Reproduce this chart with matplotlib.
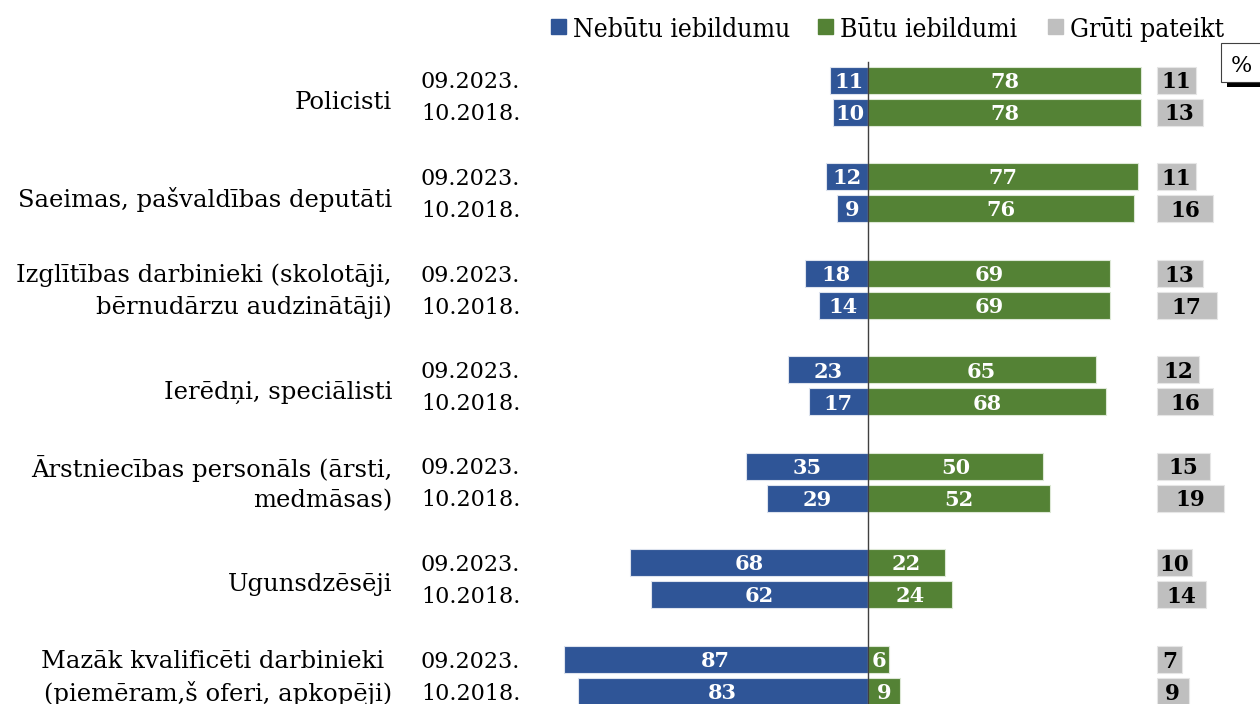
import matplotlib
matplotlib.use("Agg")
import matplotlib.pyplot as plt
from matplotlib.patches import Rectangle

groups = ["Policisti",
          "Saeimas, pašvaldības deputāti",
          "Izglītības darbinieki (skolotāji,\nbērnudārzu audzinātāji)",
          "Ierēdņi, speciālisti",
          "Ārstniecības personāls (ārsti,\nmedmāsas)",
          "Ugunsdzēsēji",
          "Mazāk kvalificēti darbinieki \n(piemēram,š oferi, apkopēji)"]
periods = ["09.2023.", "10.2018."]
no_obj_2023 = [11, 12, 18, 23, 35, 68, 87]
no_obj_2018 = [10, 9, 14, 17, 29, 62, 83]
obj_2023 = [78, 77, 69, 65, 50, 22, 6]
obj_2018 = [78, 76, 69, 68, 52, 24, 9]
hard_2023 = [11, 11, 13, 12, 15, 10, 7]
hard_2018 = [13, 16, 17, 16, 19, 14, 9]
legend_labels = ["Nebūtu iebildumu", "Būtu iebildumi", "Grūti pateikt"]

BLUE = "#2F5597"
GREEN = "#548235"
GREY = "#BFBFBF"

W, H = 1260, 704
fig = plt.figure(figsize=(W / 100, H / 100), dpi=100)
ax = fig.add_axes([0, 0, 1, 1])
scale = 3.5
zero_px = 868
ax.set_xlim(-zero_px / scale, (W - zero_px) / scale)
ax.set_ylim(H, 0)
ax.axis("off")

FONT = "DejaVu Serif"
bar_h = 27
g0, gstep, half = 96, 96.5, 16


def px2x(px):
    return (px - zero_px) / scale


grey_left = px2x(1157)

for i, g in enumerate(groups):
    yc = g0 + i * gstep
    rows = [(yc - half, no_obj_2023[i], obj_2023[i], hard_2023[i]),
            (yc + half, no_obj_2018[i], obj_2018[i], hard_2018[i])]
    for (y, n, o, h), per in zip(rows, periods):
        ax.barh(y, -n, height=bar_h, color=BLUE, edgecolor="#DDE3EE", linewidth=0.8)
        ax.barh(y, o, height=bar_h, color=GREEN, edgecolor="#DDE8D6", linewidth=0.8)
        ax.barh(y, h, left=grey_left, height=bar_h, color=GREY, edgecolor="#E6E6E6", linewidth=0.8)
        ax.text(-n / 2, y, str(n), color="white", fontsize=15, fontweight="bold",
                ha="center", va="center_baseline", family=FONT)
        ax.text(o / 2, y, str(o), color="white", fontsize=15, fontweight="bold",
                ha="center", va="center_baseline", family=FONT)
        ax.text(grey_left + h / 2, y, str(h), color="black", fontsize=15.5, fontweight="bold",
                ha="center", va="center_baseline", family=FONT)
        ax.text(px2x(421), y, per, color="black", fontsize=16, ha="left",
                va="center_baseline", family=FONT)
    lines = g.split("\n")
    if len(lines) == 1:
        ax.text(px2x(392), yc + 4, g, color="black", fontsize=17.5, ha="right",
                va="center_baseline", family=FONT)
    else:
        for line, (y, *_rest) in zip(lines, rows):
            ax.text(px2x(392), y, line, color="black", fontsize=17.5, ha="right",
                    va="center_baseline", family=FONT)

# zero line
ax.plot([0, 0], [62, H], color="#404040", lw=1.0)

# legend
leg_sq = [551, 818, 1048]
for sx, col, lab in zip(leg_sq, [BLUE, GREEN, GREY], legend_labels):
    ax.add_patch(Rectangle((px2x(sx), 19), 15 / scale, 15, color=col, clip_on=False))
    ax.text(px2x(sx + 22), 27, lab, fontsize=19, ha="left", va="center_baseline",
            family=FONT, fontstretch="condensed")

# percent box
ax.add_patch(Rectangle((px2x(1227), 80), 40 / scale, 7, facecolor="black",
                       edgecolor="none", clip_on=False))
ax.add_patch(Rectangle((px2x(1221), 43), 42 / scale, 39, facecolor="white",
                       edgecolor="#404040", lw=0.8, clip_on=False))
ax.text(px2x(1241), 63, "%", fontsize=16, ha="center", va="center_baseline", family=FONT)

fig.savefig("out.png", dpi=100)
